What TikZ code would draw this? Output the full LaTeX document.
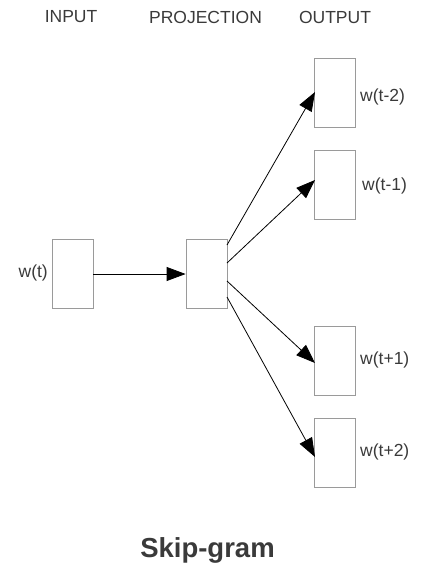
\documentclass[tikz,border=0pt]{standalone}
\usepackage{fontspec}
\setmainfont{Liberation Sans}
\usetikzlibrary{arrows.meta}
\definecolor{txt}{HTML}{3A3A3A}
\definecolor{boxc}{HTML}{9A9A9A}
\tikzset{
  unit/.style={draw=boxc, line width=0.8pt, fill=white, minimum width=41pt, minimum height=69pt, inner sep=0pt},
  lbl/.style={text=txt, font=\fontsize{17.5}{20}\selectfont, inner sep=0pt},
  conn/.style={black, line width=0.8pt, -{Triangle[length=19pt,width=14pt]}}
}
\begin{document}
\begin{tikzpicture}[x=1pt,y=-1pt]
\useasboundingbox (0,0) rectangle (426,573);
\node[lbl] (hin) at (71,17) {INPUT};
\node[lbl] (hpr) at (205.5,17) {PROJECTION};
\node[lbl] (hout) at (335,17) {OUTPUT};
\node[unit] (in) at (72.5,273.5) {};
\node[unit] (pr) at (206.5,273.5) {};
\node[unit] (o1) at (335,93) {};
\node[unit] (o2) at (335,185) {};
\node[unit] (o3) at (335,361) {};
\node[unit] (o4) at (335,452.5) {};
\node[lbl, anchor=east] (lin) at (48,273) {w(t)};
\node[lbl, anchor=west] (l1) at (360,97) {w(t-2)};
\node[lbl, anchor=west] (l2) at (362,186) {w(t-1)};
\node[lbl, anchor=west] (l3) at (360,360) {w(t+1)};
\node[lbl, anchor=west] (l4) at (360,452) {w(t+2)};
\coordinate (s1) at (227,245);
\coordinate (s2) at (227,263);
\coordinate (s3) at (227,281);
\coordinate (s4) at (227,297);
\coordinate (t1) at (315,92);
\coordinate (t2) at (315,180);
\coordinate (t3) at (315,363);
\coordinate (t4) at (315,457);
\draw[conn] (in.east |- 0,274) -- (pr.west |- 0,274);
\draw[conn] (s1) -- (t1);
\draw[conn] (s2) -- (t2);
\draw[conn] (s3) -- (t3);
\draw[conn] (s4) -- (t4);
\node[text=txt, font=\bfseries\fontsize{27.5}{32}\selectfont, inner sep=0pt] (title) at (207.5,550) {Skip-gram};
\end{tikzpicture}
\end{document}
